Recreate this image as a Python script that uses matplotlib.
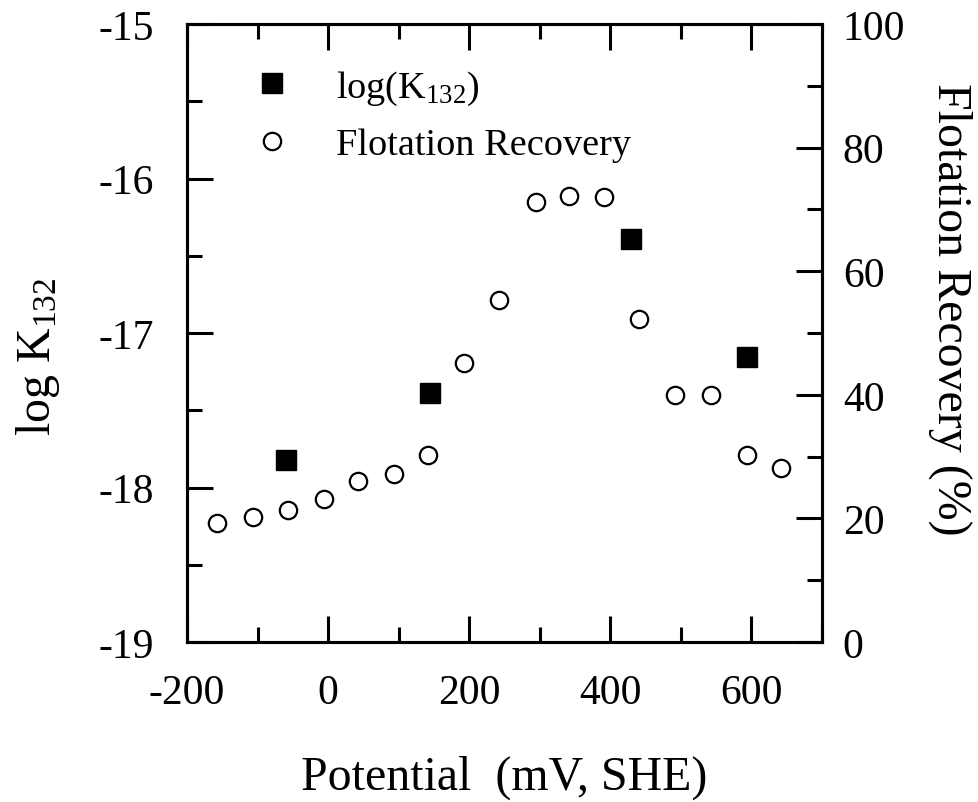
import matplotlib
matplotlib.use("Agg")
import matplotlib.pyplot as plt
from matplotlib.ticker import MultipleLocator

plt.rcParams['font.family'] = ['Liberation Serif', 'DejaVu Serif']
plt.rcParams['mathtext.fontset'] = 'custom'
plt.rcParams['mathtext.rm'] = 'Liberation Serif'
plt.rcParams['mathtext.it'] = 'Liberation Serif:italic'
plt.rcParams['mathtext.bf'] = 'Liberation Serif:bold'

# Data
logk_potential = [-60, 144, 429, 593]
logk_values = [-17.82, -17.39, -16.39, -17.155]

rec_potential = [-158, -107, -57, -6, 43, 93, 142, 192, 242, 294, 342, 391, 441, 492, 542, 594, 642]
rec_values = [19.2, 20.3, 21.3, 23.2, 26.1, 27.2, 30.2, 45.2, 55.4, 71.2, 72.1, 72.0, 52.3, 40.0, 40.0, 30.2, 28.1]

x_ticks = [-200, 0, 200, 400, 600]
left_ticks = [-19, -18, -17, -16, -15]
right_ticks = [0, 20, 40, 60, 80, 100]

fig = plt.figure(figsize=(9.79, 8.03), dpi=100)
ax = fig.add_axes([187/979, 1-643/803, (822-187)/979, (643-25)/803])
ax2 = ax.twinx()

lw = 2.2
fs = 30
lfs = 34.5

sq, = ax.plot(logk_potential, logk_values, 's', color='black', markersize=14, linestyle='none',
              label='log(K$_{132}$)')
ci, = ax2.plot(rec_potential, rec_values, 'o', markerfacecolor='white', markeredgecolor='black',
               markeredgewidth=1.6, markersize=12.5, linestyle='none', label='Flotation Recovery')

ax.set_xlim(-200, 700)
ax.set_ylim(-19, -15)
ax2.set_ylim(0, 100)

ax.set_xticks(x_ticks)
ax.set_xticklabels([str(v) for v in x_ticks])
ax.xaxis.set_minor_locator(MultipleLocator(100))
ax.set_yticks(left_ticks)
ax.set_yticklabels([str(v) for v in left_ticks])
ax.yaxis.set_minor_locator(MultipleLocator(0.5))
ax2.set_yticks(right_ticks)
ax2.set_yticklabels([str(v) for v in right_ticks])
ax2.yaxis.set_minor_locator(MultipleLocator(10))

ax.tick_params(axis='x', which='both', direction='in', top=True, bottom=True, labelsize=fs, pad=23)
ax.tick_params(axis='y', which='both', direction='in', left=True, right=False, labelsize=fs, pad=24)
ax.tick_params(which='major', length=19, width=lw)
ax.tick_params(which='minor', length=11, width=lw)
ax2.tick_params(axis='y', which='both', direction='in', right=True, labelsize=fs, pad=15)
ax2.tick_params(which='major', length=19, width=lw)
ax2.tick_params(which='minor', length=11, width=lw)

for a in (ax, ax2):
    for s in a.spines.values():
        s.set_linewidth(lw)

ax.set_xlabel('Potential  (mV, SHE)', fontsize=lfs)
ax.set_ylabel('log K$_{132}$', fontsize=lfs)
ax2.set_ylabel('Flotation Recovery (%)', fontsize=lfs, rotation=270)

ax.xaxis.set_label_coords(0.5, (643 - 778) / 618)
ax.yaxis.set_label_coords((38 - 187) / 635, (643 - 357) / 618)
ax2.yaxis.set_label_coords((950 - 187) / 635, (643 - 309) / 618)
for lab in (ax.xaxis.label, ax.yaxis.label, ax2.yaxis.label):
    lab.set_verticalalignment('center')
    lab.set_horizontalalignment('center')
    lab.set_rotation_mode('anchor')

ax.legend([sq, ci], ['log(K$_{132}$)', 'Flotation Recovery'], loc='upper left',
          bbox_to_anchor=(0.08, 0.953), frameon=False, fontsize=27.5, handlelength=1.0,
          handletextpad=1.17, labelspacing=0.55, borderaxespad=0)

fig.savefig('out.png', dpi=100)
